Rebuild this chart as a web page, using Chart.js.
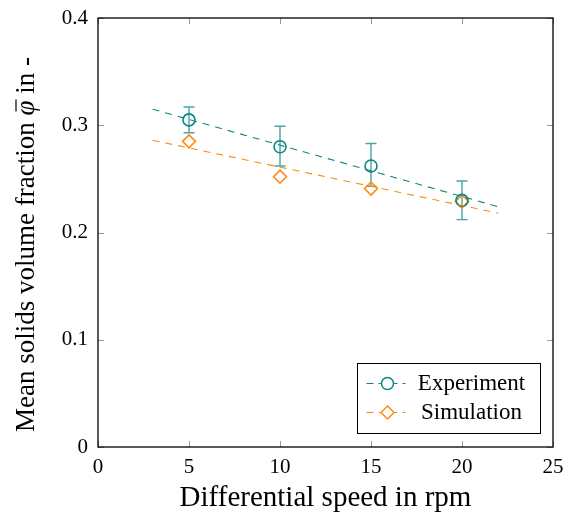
<!DOCTYPE html>
<html>
<head>
<meta charset="utf-8">
<script src="https://cdn.jsdelivr.net/npm/chart.js@4.4.1/dist/chart.umd.min.js"></script>
<style>
  html, body { margin: 0; padding: 0; background: #fff; }
  #wrap { width: 565px; height: 516px; }
</style>
</head>
<body>
<div id="wrap"><canvas id="grafico"></canvas></div>
<script>
// datos
const speeds = [5, 10, 15, 20];
const expMean = [0.305, 0.280, 0.262, 0.230];
const expLow = [0.293, 0.262, 0.243, 0.212];
const expHigh = [0.317, 0.299, 0.283, 0.248];
const simMean = [0.285, 0.252, 0.241, 0.229];
const trendX = [3, 22];
const expTrend = [0.315, 0.224];
const simTrend = [0.286, 0.218];
const xTicks = [0, 5, 10, 15, 20, 25];
const yTicks = [0, 0.1, 0.2, 0.3, 0.4];

const TEAL = "#0b8585";
const ORANGE = "#ff8a10";
const FONT = "'Liberation Serif', 'DejaVu Serif', serif";

// marco tipo pgfplots con ticks hacia dentro
const marco = {
  id: "marco",
  beforeDatasetsDraw(chart) {
    const { ctx, chartArea: a, scales } = chart;
    ctx.save();
    ctx.strokeStyle = "#9a9a9a";
    ctx.lineWidth = 1;
    const len = 6;
    xTicks.forEach((v) => {
      const px = Math.round(scales.x.getPixelForValue(v)) + 0.5;
      ctx.beginPath();
      ctx.moveTo(px, a.bottom); ctx.lineTo(px, a.bottom - len);
      ctx.moveTo(px, a.top); ctx.lineTo(px, a.top + len);
      ctx.stroke();
    });
    yTicks.forEach((v) => {
      const py = Math.round(scales.y.getPixelForValue(v)) + 0.5;
      ctx.beginPath();
      ctx.moveTo(a.left, py); ctx.lineTo(a.left + len, py);
      ctx.moveTo(a.right, py); ctx.lineTo(a.right - len, py);
      ctx.stroke();
    });
    // barras de error
    ctx.strokeStyle = "rgba(11,133,133,0.75)";
    ctx.lineWidth = 1.4;
    speeds.forEach((s, i) => {
      const px = scales.x.getPixelForValue(s);
      const lo = scales.y.getPixelForValue(expLow[i]);
      const hi = scales.y.getPixelForValue(expHigh[i]);
      ctx.beginPath();
      ctx.moveTo(px, lo); ctx.lineTo(px, hi);
      ctx.moveTo(px - 5.5, lo); ctx.lineTo(px + 5.5, lo);
      ctx.moveTo(px - 5.5, hi); ctx.lineTo(px + 5.5, hi);
      ctx.stroke();
    });
    ctx.restore();
  },
  afterDraw(chart) {
    const { ctx, chartArea: a } = chart;
    ctx.save();
    ctx.strokeStyle = "#000";
    ctx.lineWidth = 1.3;
    ctx.strokeRect(a.left, a.top, a.right - a.left, a.bottom - a.top);

    // titulo del eje y con phi en cursiva
    const partes = [
      { t: "Mean solids volume fraction ", f: "27px " + FONT },
      { t: "φ", f: "italic 27px " + FONT, barra: true },
      { t: " in -", f: "27px " + FONT },
    ];
    let total = 0;
    partes.forEach((p) => { ctx.font = p.f; p.w = ctx.measureText(p.t).width; total += p.w; });
    ctx.translate(27, (a.top + a.bottom) / 2 + 12);
    ctx.rotate(-Math.PI / 2);
    ctx.fillStyle = "#000";
    ctx.textBaseline = "middle";
    ctx.textAlign = "left";
    let pos = -total / 2;
    partes.forEach((p) => {
      ctx.font = p.f;
      ctx.fillText(p.t, pos, 0);
      if (p.barra) {
        ctx.lineWidth = 1.2;
        ctx.beginPath();
        ctx.moveTo(pos + 4, -11); ctx.lineTo(pos + p.w + 1, -11);
        ctx.stroke();
      }
      pos += p.w;
    });
    ctx.setTransform(1, 0, 0, 1, 0, 0);

    // leyenda
    const bx = 357.5, by = 363.5, bw = 183, bh = 70;
    ctx.fillStyle = "#fff";
    ctx.fillRect(bx, by, bw, bh);
    ctx.lineWidth = 1;
    ctx.strokeStyle = "#000";
    ctx.strokeRect(bx, by, bw, bh);
    const filas = [
      { label: "Experiment", color: TEAL, style: "circle", r: 6, y: by + 20 },
      { label: "Simulation", color: ORANGE, style: "rectRot", r: 6.5, y: by + 49 },
    ];
    filas.forEach((f) => {
      ctx.strokeStyle = f.color;
      ctx.lineWidth = 1.2;
      ctx.setLineDash([7, 5]);
      ctx.beginPath();
      ctx.moveTo(bx + 9, f.y); ctx.lineTo(bx + 48, f.y);
      ctx.stroke();
      ctx.setLineDash([]);
      ctx.fillStyle = "#fff";
      ctx.lineWidth = 1.5;
      Chart.helpers.drawPoint(ctx, { pointStyle: f.style, radius: f.r, borderWidth: 1.5 }, bx + 30, f.y);
      ctx.fillStyle = "#000";
      ctx.font = "23px " + FONT;
      ctx.textAlign = "center";
      ctx.textBaseline = "middle";
      ctx.fillText(f.label, bx + 114, f.y);
    });
    ctx.restore();
  },
};

const ctx = document.getElementById("grafico").getContext("2d");
const grafico = new Chart(ctx, {
  type: "scatter",
  data: {
    datasets: [
      {
        label: "Experiment trend",
        type: "line",
        data: trendX.map((x, i) => ({ x: x, y: expTrend[i] })),
        borderColor: TEAL,
        borderWidth: 1.1,
        borderDash: [7, 6],
        pointRadius: 0,
        fill: false,
      },
      {
        label: "Simulation trend",
        type: "line",
        data: trendX.map((x, i) => ({ x: x, y: simTrend[i] })),
        borderColor: ORANGE,
        borderWidth: 1.1,
        borderDash: [7, 6],
        pointRadius: 0,
        fill: false,
      },
      {
        label: "Experiment",
        data: speeds.map((x, i) => ({ x: x, y: expMean[i] })),
        pointStyle: "circle",
        pointRadius: 6,
        borderColor: TEAL,
        backgroundColor: "rgba(0,0,0,0)",
        borderWidth: 1.6,
      },
      {
        label: "Simulation",
        data: speeds.map((x, i) => ({ x: x, y: simMean[i] })),
        pointStyle: "rectRot",
        pointRadius: 6.5,
        borderColor: ORANGE,
        backgroundColor: "rgba(0,0,0,0)",
        borderWidth: 1.6,
      },
    ],
  },
  options: {
    responsive: true,
    maintainAspectRatio: false,
    animation: false,
    layout: { padding: { top: 18, right: 12, left: 0, bottom: 0 } },
    plugins: {
      legend: { display: false },
      tooltip: { enabled: false },
    },
    scales: {
      x: {
        type: "linear",
        min: 0,
        max: 25,
        afterBuildTicks: (s) => { s.ticks = xTicks.map((v) => ({ value: v })); },
        afterFit: (s) => { s.height = 69; s.paddingRight = 0; s.paddingLeft = 0; },
        grid: { display: false, drawTicks: false },
        border: { display: false },
        ticks: { color: "#000", padding: 8, font: { family: FONT, size: 21 } },
        title: {
          display: true,
          text: "Differential speed in rpm",
          color: "#000",
          font: { family: FONT, size: 29 },
          padding: { top: 2, bottom: 0 },
        },
      },
      y: {
        type: "linear",
        min: 0,
        max: 0.4,
        afterBuildTicks: (s) => { s.ticks = yTicks.map((v) => ({ value: v })); },
        afterFit: (s) => { s.width = 98; s.paddingTop = 0; s.paddingBottom = 0; },
        grid: { display: false, drawTicks: false },
        border: { display: false },
        ticks: {
          color: "#000",
          padding: 10,
          font: { family: FONT, size: 21 },
          callback: function (value) {
            return value === 0 ? "0" : value.toFixed(1);
          },
        },
        title: { display: false },
      },
    },
  },
  plugins: [marco],
});
</script>
</body>
</html>
